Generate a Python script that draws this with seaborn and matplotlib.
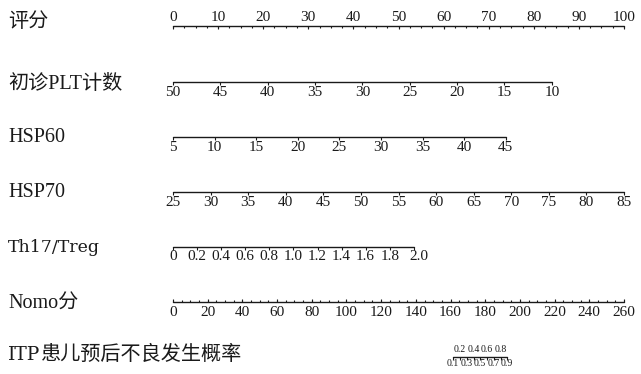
import numpy as np
import pandas as pd
import matplotlib
matplotlib.use("Agg")
import matplotlib.pyplot as plt
import seaborn as sns

# row labels
row_names = ["评分", "初诊PLT计数", "HSP60", "HSP70", "Th17/Treg", "Nomo分", "ITP患儿预后不良发生概率"]

# points scale
points_major = np.arange(0, 101, 10)
points_minor = np.arange(0, 100.1, 2.5)

# predictors: tick values and the points reached at the last tick
plt_ticks = [50, 45, 40, 35, 30, 25, 20, 15, 10]
plt_max_points = 84
hsp60_ticks = [5, 10, 15, 20, 25, 30, 35, 40, 45]
hsp60_max_points = 73.8
hsp70_ticks = [25, 30, 35, 40, 45, 50, 55, 60, 65, 70, 75, 80, 85]
hsp70_max_points = 100
th17_ticks = [0, 0.2, 0.4, 0.6, 0.8, 1.0, 1.2, 1.4, 1.6, 1.8, 2.0]
th17_labels = ["0", "0.2", "0.4", "0.6", "0.8", "1.0", "1.2", "1.4", "1.6", "1.8", "2.0"]
th17_max_points = 53.4

# total points
total_major = np.arange(0, 261, 20)
total_minor = np.arange(0, 260.1, 5)
total_max = 260

# probability ticks and their position on total points
prob_ticks = [0.1, 0.2, 0.3, 0.4, 0.5, 0.6, 0.7, 0.8, 0.9]
prob_total = [161.5, 165.5, 169.5, 173.5, 177, 181, 185, 189, 192.5]

sns.set_theme(style="white")
plt.rcParams['font.family'] = ['Liberation Serif', 'Noto Sans CJK SC']

W, H = 641, 374
fig = plt.figure(figsize=(W / 100, H / 100), dpi=100)
ax = fig.add_axes([0, 0, 1, 1])
x0, px_per_pt = 173, 4.51
ax.set_xlim(-x0 / px_per_pt, (W - x0) / px_per_pt)
ax.set_ylim(H, 0)
ax.axis("off")
renderer = fig.canvas.get_renderer()

col = "#1a1a1a"
lab_fs = 14.5
tick_fs = 11
wide_serif = ['DejaVu Serif', 'Noto Sans CJK SC']


def axis_line(xs, y):
    df = pd.DataFrame({"x": [min(xs), max(xs)], "y": [y, y]})
    sns.lineplot(data=df, x="x", y="y", ax=ax, color=col, lw=1.0, legend=False)


def ticks(xs, y, length, up=False):
    if up:
        ax.vlines(xs, y - length, y, color=col, lw=0.8)
    else:
        ax.vlines(xs, y, y + length, color=col, lw=0.8)


def row_label(name, y):
    # "Th17/Treg" and "ITP" are set in a wider serif in the original
    if name.startswith("Th17"):
        runs = [(name, wide_serif, 12.5)]
    elif name.startswith("ITP"):
        runs = [(name[:3], wide_serif, 13.5), (name[3:], None, lab_fs)]
    else:
        runs = [(name, None, lab_fs)]
    xp = 8
    for txt, fam, fs in runs:
        kw = {"family": fam} if fam else {}
        t = ax.text((xp - x0) / px_per_pt, y, txt, fontsize=fs, va="center", ha="left", color=col, **kw)
        xp += t.get_window_extent(renderer=renderer).width + 1


row_y = [26, 82, 137, 192, 247, 302, 357]
label_y = [22, 84, 137, 192, 248, 304, 355]
for name, ly in zip(row_names, label_y):
    row_label(name, ly)

# points
y = row_y[0]
axis_line(points_major, y)
ticks(points_minor, y, 2)
ticks(points_major, y, 3)
for v in points_major:
    ax.text(v, y - 9, str(v), fontsize=tick_fs, ha="center", va="center", color=col)


def var_axis(vals, labels, max_pts, y, lab_dx=None):
    pts = np.interp(np.arange(len(vals)), [0, len(vals) - 1], [0, max_pts])
    axis_line(pts, y)
    ticks(pts, y, 3)
    for i, (p, t) in enumerate(zip(pts, labels)):
        dx = 0
        if lab_dx is not None and i == len(pts) - 1:
            dx = lab_dx
        ax.text(p + dx, y + 10, t, fontsize=tick_fs, ha="center", va="center", color=col)


var_axis(plt_ticks, [str(v) for v in plt_ticks], plt_max_points, row_y[1])
var_axis(hsp60_ticks, [str(v) for v in hsp60_ticks], hsp60_max_points, row_y[2])
var_axis(hsp70_ticks, [str(v) for v in hsp70_ticks], hsp70_max_points, row_y[3])
var_axis(th17_ticks, th17_labels, th17_max_points, row_y[4], lab_dx=1.2)

# total points
y = row_y[5]
tp = np.array(total_major) / total_max * 100
axis_line(tp, y)
ticks(np.array(total_minor) / total_max * 100, y, 2, up=True)
ticks(tp, y, 3, up=True)
for v, p in zip(total_major, tp):
    ax.text(p, y + 11, str(v), fontsize=tick_fs, ha="center", va="center", color=col)

# probability
y = row_y[6]
pp = np.array(prob_total) / total_max * 100
axis_line(pp, y)
ticks(pp, y, 3)
for i, (v, p) in enumerate(zip(prob_ticks, pp)):
    if i % 2 == 0:
        ax.text(p, y + 7, f"{v:.1f}", fontsize=7, ha="center", va="center", color=col)
    else:
        ax.text(p, y - 8, f"{v:.1f}", fontsize=7, ha="center", va="center", color=col)

fig.savefig("out.png", dpi=100, facecolor="white")
